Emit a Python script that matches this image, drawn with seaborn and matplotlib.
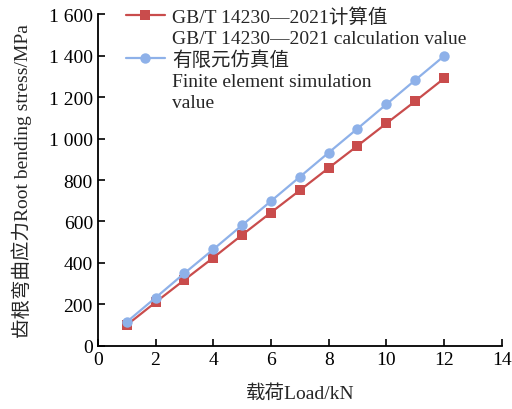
import matplotlib
matplotlib.use("Agg")
import matplotlib.pyplot as plt
from matplotlib.lines import Line2D
import seaborn as sns
import pandas as pd

load = [1, 2, 3, 4, 5, 6, 7, 8, 9, 10, 11, 12]
calc_vals = [100, 210, 318, 425, 535, 643, 750, 858, 965, 1073, 1180, 1290]
fem_vals = [115, 232, 350, 465, 582, 698, 815, 932, 1048, 1165, 1282, 1398]
series_names = ["GB/T 14230\u20142021计算值", "有限元仿真值"]
legend_lines = [
    ["GB/T 14230\u20142021计算值", "GB/T 14230\u20142021 calculation value"],
    ["有限元仿真值", "Finite element simulation", "value"],
]
x_ticks = [0, 2, 4, 6, 8, 10, 12, 14]
y_ticks = [0, 200, 400, 600, 800, 1000, 1200, 1400, 1600]
y_tick_labels = ["0", "200", "400", "600", "800", "1 000", "1 200", "1 400", "1 600"]

sns.set_style("ticks")
plt.rcParams['font.family'] = ['Liberation Serif', 'Noto Sans CJK SC']

df = pd.DataFrame({
    "load": load * 2,
    "stress": calc_vals + fem_vals,
    "series": [series_names[0]] * len(load) + [series_names[1]] * len(load),
})

fig = plt.figure(figsize=(5.12, 4.10), dpi=100)
ax = fig.add_axes([0.191, 0.154, 0.789, 0.809])

palette = {series_names[0]: "#C94C4C", series_names[1]: "#8EB1E9"}
sns.lineplot(data=df, x="load", y="stress", hue="series", style="series",
             markers={series_names[0]: "s", series_names[1]: "o"},
             dashes=False, palette=palette, markersize=7.5, linewidth=1.6,
             markeredgewidth=0, ax=ax)

ax.set_xlim(0, 14)
ax.set_ylim(0, 1600)
ax.set_xticks(x_ticks)
ax.set_yticks(y_ticks)
ax.set_yticklabels(y_tick_labels)
ax.tick_params(direction="in", labelsize=14, length=5, width=1.2, colors="black")
for s in ["top", "right"]:
    ax.spines[s].set_visible(False)
for s in ["left", "bottom"]:
    ax.spines[s].set_linewidth(1.3)
    ax.spines[s].set_color("black")

ax.set_xlabel("载荷Load/kN", fontsize=14, labelpad=12)
ax.set_ylabel("齿根弯曲应力Root bending stress/MPa", fontsize=14, labelpad=12)

handles, labels = ax.get_legend_handles_labels()
hmap = dict(zip(labels, handles))
blank = Line2D([], [], linestyle="none", marker=None)
leg_handles, leg_labels = [], []
for name, lines in zip(series_names, legend_lines):
    for i, ln in enumerate(lines):
        leg_handles.append(hmap[name] if i == 0 else blank)
        leg_labels.append(ln)
if ax.get_legend():
    ax.get_legend().remove()
leg = ax.legend(leg_handles, leg_labels, loc="upper left",
                bbox_to_anchor=(0.05, 1.045), frameon=False,
                fontsize=14, handlelength=2.0, handletextpad=0.4,
                borderaxespad=0, labelspacing=0.18)

fig.savefig("out.png", dpi=100)
